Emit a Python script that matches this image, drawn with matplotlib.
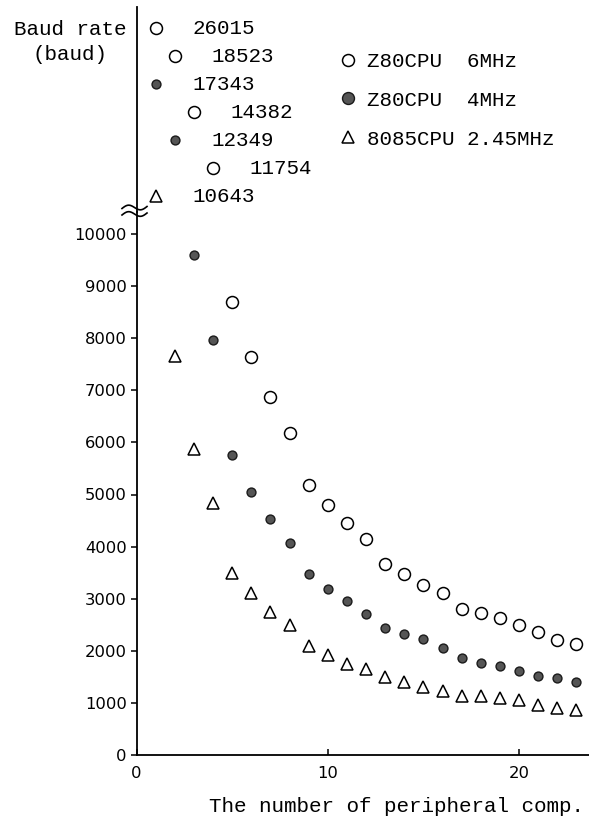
import numpy as np
import matplotlib
matplotlib.use('Agg')
import matplotlib.pyplot as plt
from matplotlib.lines import Line2D

# number of peripheral components on the x axis
n_comp = np.arange(1, 24)

# baud rate
z80_6mhz = [26015, 18523, 14382, 11754, 8700, 7640, 6870, 6180, 5180, 4800, 4450, 4150,
            3670, 3480, 3270, 3110, 2810, 2720, 2620, 2490, 2370, 2210, 2140]
z80_4mhz = [17343, 12349, 9600, 7960, 5750, 5050, 4530, 4060, 3480, 3180, 2960, 2700,
            2440, 2320, 2220, 2060, 1870, 1770, 1700, 1610, 1510, 1480, 1410]
i8085 = [10643, 7650, 5870, 4840, 3500, 3110, 2750, 2500, 2090, 1920, 1750, 1660,
         1500, 1400, 1300, 1220, 1130, 1130, 1100, 1050, 960, 900, 860]

series_labels = ["Z80CPU  6MHz", "Z80CPU  4MHz", "8085CPU 2.45MHz"]
y_ticks = [0, 1000, 2000, 3000, 4000, 5000, 6000, 7000, 8000, 9000, 10000]
x_ticks = [0, 10, 20]
y_break = 10400  # values above this go in the compressed top part

mono = 'Liberation Mono'
sans = 'DejaVu Sans'

styles = [
    dict(marker='o', ms=8.6, mfc='white', mec='black', mew=1.1),
    dict(marker='o', ms=6.4, mfc='#555555', mec='#1a1a1a', mew=1.0),
    dict(marker='^', ms=9.0, mfc='white', mec='black', mew=1.1),
]
all_series = [z80_6mhz, z80_4mhz, i8085]

W, H = 589, 826
fig = plt.figure(figsize=(W / 100, H / 100), dpi=100)

x0_px, x_right_px = 136.5, 589
y0_px, ybreak_px, ytop_px = 755, 212, 7
xmax = (x_right_px - x0_px) / 19.13

ax = fig.add_axes([x0_px / W, (H - y0_px) / H, (x_right_px - x0_px) / W, (y0_px - ybreak_px) / H])
top = fig.add_axes([x0_px / W, (H - ybreak_px) / H, (x_right_px - x0_px) / W, (ybreak_px - ytop_px) / H])

# main (to scale) part
for vals, st in zip(all_series, styles):
    vals = np.array(vals)
    m = vals <= y_break
    ax.plot(n_comp[m], vals[m], ls='none', clip_on=False, **st)

ax.set_xlim(0, xmax)
ax.set_ylim(0, (y0_px - ybreak_px) / 52.1 * 1000)
ax.set_yticks(y_ticks)
ax.set_xticks(x_ticks)
ax.spines['top'].set_visible(False)
ax.spines['right'].set_visible(False)
ax.spines['left'].set_linewidth(1.3)
ax.spines['bottom'].set_linewidth(1.3)
ax.tick_params(axis='y', direction='out', length=4, width=1.1, pad=3, labelsize=11.8)
ax.tick_params(axis='x', direction='in', length=4, width=1.1, pad=8, labelsize=11.8)
for lab in ax.get_xticklabels() + ax.get_yticklabels():
    lab.set_family(sans)

# top part: off-scale values stacked in order and labelled
pts = []
for vals, st in zip(all_series, styles):
    for x, v in zip(n_comp, vals):
        if v > y_break:
            pts.append((v, x, st))
pts.sort(key=lambda p: -p[0])
for rank, (v, x, st) in enumerate(pts):
    top.plot([x], [rank], ls='none', clip_on=False, **st)
    top.annotate(str(v), (x, rank), xytext=(26.5, 0), textcoords='offset points',
                 ha='left', va='center', family=mono, fontsize=15)
top.set_xlim(0, xmax)
top.set_ylim(6.57, -0.75)
for s in ['top', 'right', 'bottom']:
    top.spines[s].set_visible(False)
top.spines['left'].set_linewidth(1.3)
top.set_xticks([])
top.set_yticks([])
top.patch.set_alpha(0)

# axis break marks
t = np.linspace(0, 1, 40)
for dy in (-3.5, 3.0):
    xs = 122 + 25 * t
    ys = ybreak_px + dy - 2.8 * np.sin(2 * np.pi * t) - 2 * t
    fig.add_artist(Line2D(xs / W, 1 - ys / H, color='black', lw=1.2))

# axis labels
fig.text(70 / W, 1 - 42 / H, "Baud rate\n(baud)", ha='center', va='center',
         family=mono, fontsize=15, linespacing=1.4)
fig.text(584 / W, 1 - 806 / H, "The number of peripheral comp.", ha='right', va='center',
         family=mono, fontsize=15)

# legend
legend_styles = [dict(st, ms=8.6) if i == 1 else st for i, st in enumerate(styles)]
handles = [Line2D([], [], ls='none', **st) for st in legend_styles]
fig.legend(handles, series_labels, loc='upper left', bbox_to_anchor=(338 / W, 1 - 52 / H),
           frameon=False, prop={'family': mono, 'size': 15}, handlelength=1.0,
           handletextpad=0.4, labelspacing=0.95, borderpad=0, borderaxespad=0)

fig.savefig('out.png', dpi=100)
